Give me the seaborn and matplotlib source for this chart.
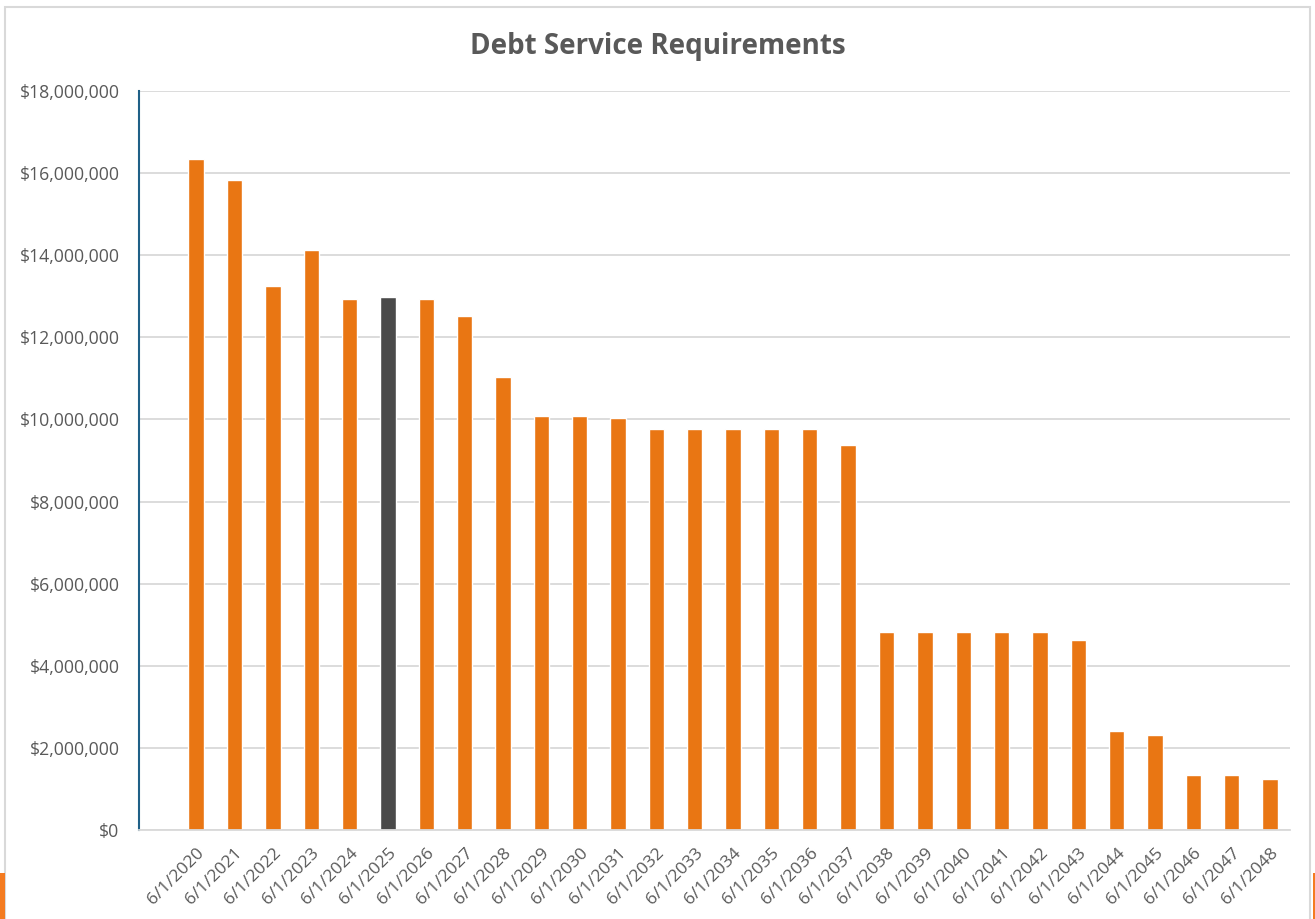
import matplotlib
matplotlib.use("Agg")
import matplotlib.pyplot as plt
import matplotlib.ticker as mticker
from matplotlib.patches import Rectangle
import seaborn as sns
import pandas as pd

dates = [f"6/1/{y}" for y in range(2020, 2049)]
values = [16.34, 15.83, 13.25, 14.13, 12.93, 12.98, 12.93, 12.52, 11.03,
          10.08, 10.08, 10.03, 9.77, 9.77, 9.77, 9.77, 9.77, 9.38,
          4.82, 4.82, 4.82, 4.82, 4.83, 4.63, 2.41, 2.31, 1.34, 1.34, 1.24]
values = [v * 1e6 for v in values]
highlight = "6/1/2025"

ORANGE = "#E97613"
DARK = "#4A4A4A"
TEXT = "#595959"

df = pd.DataFrame({"date": dates, "value": values})
palette = {d: (DARK if d == highlight else ORANGE) for d in dates}

sns.set_theme(style="white")
plt.rcParams["font.family"] = ["Open Sans", "DejaVu Sans"]

fig = plt.figure(figsize=(13.15, 9.19), dpi=100)
ax = fig.add_axes([0.1057, 0.0968, 0.8753, 0.8042])

sns.barplot(data=df, x="date", y="value", hue="date", palette=palette,
            legend=False, width=0.4, ax=ax, saturation=1)

ax.set_xlim(-1.49, 28.52)
ax.set_ylim(0, 18e6)
ax.yaxis.set_major_locator(mticker.MultipleLocator(2e6))
ax.yaxis.set_major_formatter(mticker.FuncFormatter(lambda v, p: f"${v:,.0f}"))
ax.grid(axis="y", color="#D9D9D9", linewidth=1.3)
ax.set_axisbelow(True)
for s in ["top", "right"]:
    ax.spines[s].set_visible(False)
ax.spines["left"].set_color("#1F6087")
ax.spines["left"].set_linewidth(1.5)
ax.spines["bottom"].set_color("#D9D9D9")
ax.spines["bottom"].set_linewidth(1.3)
ax.set_xlabel("")
ax.set_ylabel("")
ax.tick_params(axis="y", labelsize=12.7, labelcolor=TEXT, length=0, pad=14)
ax.tick_params(axis="x", labelsize=12.6, labelcolor=TEXT, length=0, pad=11)
for lbl in ax.get_xticklabels():
    lbl.set_rotation(45)
    lbl.set_ha("right")
    lbl.set_rotation_mode("anchor")

fig.text(0.5, 0.949, "Debt Service Requirements", ha="center", va="center",
         fontsize=20, fontweight="bold", color=TEXT)

fig.patches.append(Rectangle((5 / 1315, -0.01), 1305 / 1315, 1.0 - 7 / 919 + 0.01,
                             transform=fig.transFigure, fill=False,
                             edgecolor="#D9D9D9", linewidth=1.5))
fig.patches.append(Rectangle((0, 0), 5 / 1315, 46 / 919, transform=fig.transFigure,
                             facecolor="#F47B20", edgecolor="none"))
fig.patches.append(Rectangle((1313 / 1315, 0), 2 / 1315, 46 / 919, transform=fig.transFigure,
                             facecolor="#F47B20", edgecolor="none"))

fig.savefig("out.png", dpi=100)
